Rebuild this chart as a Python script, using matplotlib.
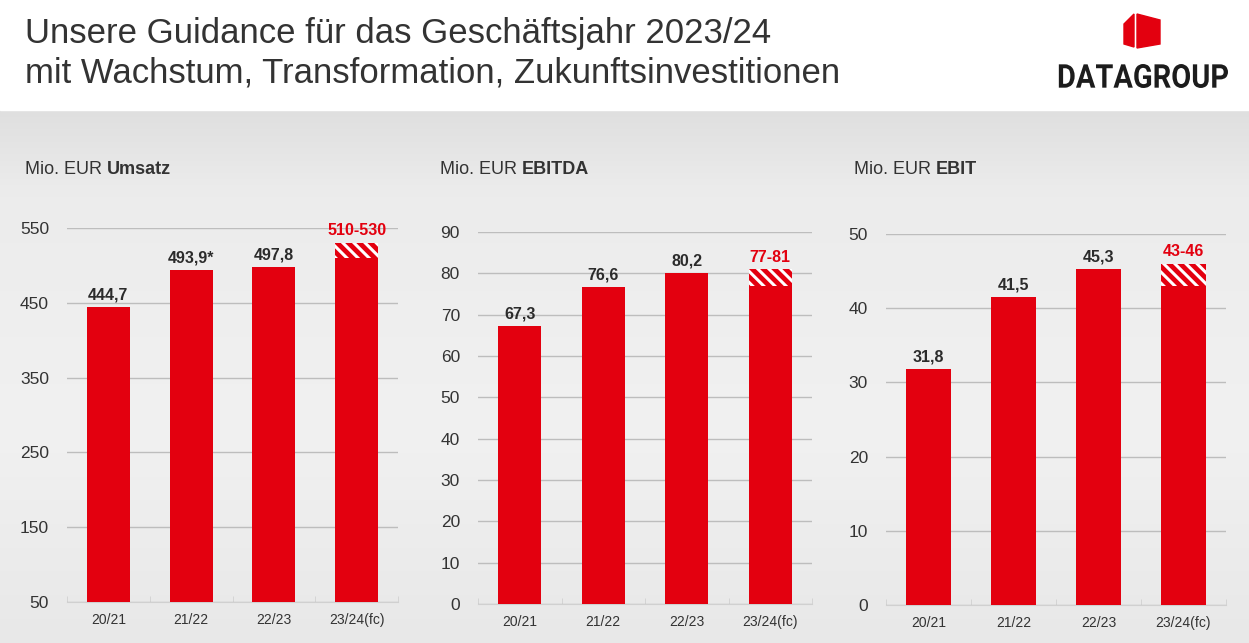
import numpy as np
import matplotlib
matplotlib.use("Agg")
import matplotlib.pyplot as plt
from matplotlib.patches import Polygon, PathPatch
from matplotlib.textpath import TextPath
from matplotlib.font_manager import FontProperties
from matplotlib.path import Path

plt.rcParams['font.family'] = ['Liberation Sans', 'DejaVu Sans']
plt.rcParams['hatch.linewidth'] = 2.2

# DATA

years = ["20/21", "21/22", "22/23", "23/24(fc)"]

umsatz = [444.7, 493.9, 497.8, 510]
umsatz_hi = 530
umsatz_labels = ["444,7", "493,9*", "497,8", "510-530"]

ebitda = [67.3, 76.6, 80.2, 77]
ebitda_hi = 81
ebitda_labels = ["67,3", "76,6", "80,2", "77-81"]

ebit = [31.8, 41.5, 45.3, 43]
ebit_hi = 46
ebit_labels = ["31,8", "41,5", "45,3", "43-46"]

RED = "#e3000f"
DARK = "#2b2b2b"

W, H = 1249, 643
fig = plt.figure(figsize=(W / 100, H / 100), dpi=100)

# BACKGROUND

bg = fig.add_axes([0, 0, 1, 1], zorder=-10)
bg.set_xlim(0, W)
bg.set_ylim(H, 0)
bg.axis("off")
grad = np.interp(np.linspace(0, 1, 200),
                 [0, 0.15, 0.6, 1.0],
                 [0.875, 0.925, 0.945, 0.91])
bg.imshow(np.tile(grad[:, None, None], (1, 2, 3)),
          extent=[0, W, H, 110], aspect="auto")
bg.add_patch(plt.Rectangle((0, 0), W, 110, color="white", zorder=2))

# HEADER

fig.text(25 / W, 1 - 33 / H, "Unsere Guidance für das Geschäftsjahr 2023/24",
         fontsize=25, color="#333333", va="center")
fig.text(25 / W, 1 - 73 / H, "mit Wachstum, Transformation, Zukunftsinvestitionen",
         fontsize=25, color="#333333", va="center")

# logo cube
bg.add_patch(Polygon([(1124, 24), (1134, 14), (1134, 47), (1124, 44)],
                     color=RED, zorder=3))
bg.add_patch(Polygon([(1137, 14), (1160, 20), (1160, 44), (1137, 48)],
                     color=RED, zorder=3))

# logo text
tp = TextPath((0, 0), "DATAGROUP", size=50,
              prop=FontProperties(family="Roboto", weight="bold"))
v = tp.vertices.copy()
x0, y0 = v.min(axis=0)
x1, y1 = v.max(axis=0)
v[:, 0] = 1057 + (v[:, 0] - x0) / (x1 - x0) * (1228 - 1057)
v[:, 1] = 88 - (v[:, 1] - y0) / (y1 - y0) * (88 - 64)
bg.add_patch(PathPatch(Path(v, tp.codes), color="#1c1c1c", lw=0, zorder=3))

# PANELS

panels = [
    dict(rect=[67 / W, 1 - 602 / H, 331 / W, 374 / H],
         vals=umsatz, hi=umsatz_hi, labels=umsatz_labels,
         ylim=(50, 550), ticks=[50, 150, 250, 350, 450, 550],
         title="Umsatz", base=50),
    dict(rect=[478 / W, 1 - 604 / H, 334 / W, 372 / H],
         vals=ebitda, hi=ebitda_hi, labels=ebitda_labels,
         ylim=(0, 90), ticks=list(range(0, 91, 10)),
         title="EBITDA", base=0),
    dict(rect=[886 / W, 1 - 605 / H, 340 / W, 371 / H],
         vals=ebit, hi=ebit_hi, labels=ebit_labels,
         ylim=(0, 50), ticks=list(range(0, 51, 10)),
         title="EBIT", base=0),
]

title_x = [25, 440, 854]

for p, tx in zip(panels, title_x):
    ax = fig.add_axes(p["rect"])
    ax.set_facecolor("none")
    x = np.arange(len(years))
    base = p["base"]
    vals = np.array(p["vals"])

    ax.bar(x, vals - base, bottom=base, width=0.52, color=RED, zorder=3)
    ax.bar(x[-1], p["hi"] - vals[-1], bottom=vals[-1], width=0.52,
           facecolor=RED, edgecolor="white", hatch="\\\\\\", lw=0, zorder=3)

    span = p["ylim"][1] - p["ylim"][0]
    for i, lab in enumerate(p["labels"]):
        top = p["hi"] if i == len(years) - 1 else vals[i]
        col = RED if i == len(years) - 1 else DARK
        ax.text(x[i], top + span * 0.012, lab, ha="center", va="bottom",
                fontsize=11.5, fontweight="bold", color=col, zorder=5,
                clip_on=False)

    ax.set_xlim(-0.5, len(years) - 0.5)
    ax.set_ylim(*p["ylim"])
    ax.set_yticks(p["ticks"])
    ax.set_yticklabels([str(t) for t in p["ticks"]])
    ax.grid(axis="y", color="#bdbdbd", lw=1, zorder=0)
    ax.tick_params(axis="y", length=0, pad=13, labelsize=12.5,
                   labelcolor="#333333")
    ax.set_xticks(x)
    ax.set_xticklabels(years)
    ax.set_xticks(np.arange(-0.5, len(years), 1), minor=True)
    ax.tick_params(axis="x", which="major", length=0, pad=8, labelsize=10,
                   labelcolor="#333333")
    ax.tick_params(axis="x", which="minor", length=4, color="#d0d0d0",
                   direction="in")
    for s in ["left", "right", "top"]:
        ax.spines[s].set_visible(False)
    ax.spines["bottom"].set_color("#d0d0d0")

    fig.text(tx / W, 1 - 170 / H, "Mio. EUR ", fontsize=13,
             color="#333333", va="center")
    t = fig.text(tx / W, 1 - 170 / H, "Mio. EUR ", fontsize=13,
                 color="none", va="center")
    fig.canvas.draw()
    bb = t.get_window_extent()
    fig.text(bb.x1 / W, 1 - 170 / H, p["title"], fontsize=13,
             fontweight="bold", color="#333333", va="center")

fig.savefig("out.png", dpi=100)
